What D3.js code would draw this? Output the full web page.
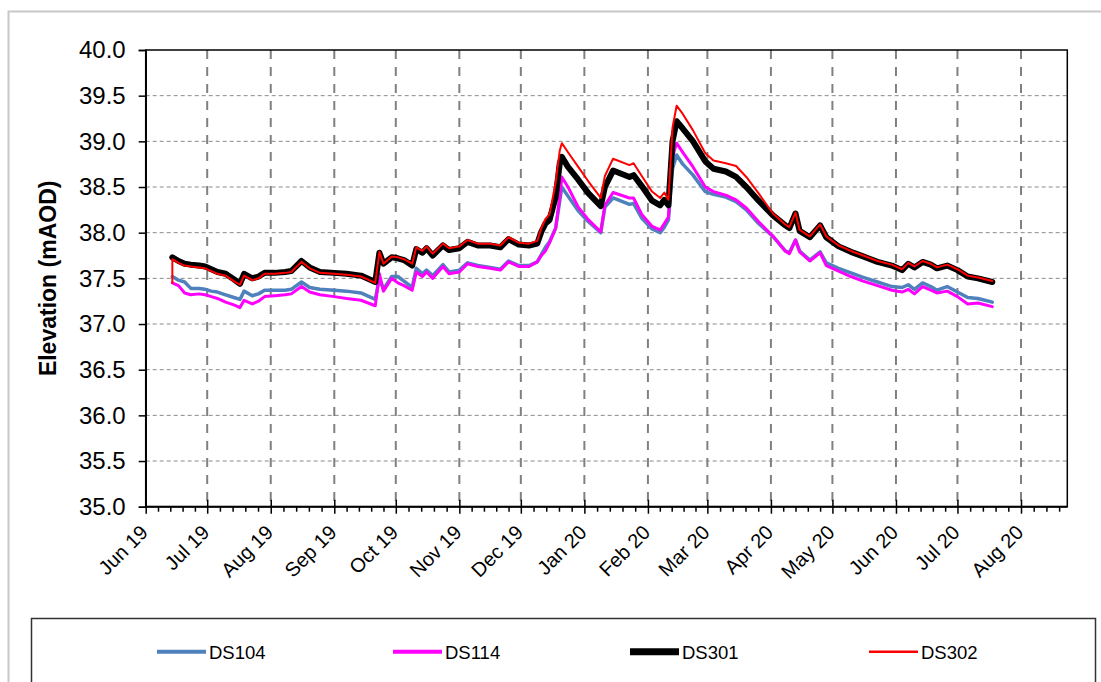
<!DOCTYPE html>
<html>
<head>
<meta charset="utf-8">
<script src="https://cdn.jsdelivr.net/npm/d3@7"></script>
<style>
  html, body { margin: 0; padding: 0; background: #fff; }
  svg { display: block; font-family: "Liberation Sans", Arial, sans-serif; }
</style>
</head>
<body>
<svg id="chart" width="1101" height="682"></svg>
<script>
// ---------------- DATA ----------------
const dates = [
"2019-06-14","2019-06-14","2019-06-17","2019-06-20","2019-06-23","2019-06-27","2019-06-30",
"2019-07-03","2019-07-06","2019-07-10","2019-07-14","2019-07-17","2019-07-19","2019-07-23","2019-07-26","2019-07-29",
"2019-08-03","2019-08-08","2019-08-11","2019-08-16","2019-08-20","2019-08-25",
"2019-09-01","2019-09-07","2019-09-14","2019-09-21","2019-09-23","2019-09-25","2019-09-29",
"2019-10-02","2019-10-05","2019-10-09","2019-10-11","2019-10-14","2019-10-16","2019-10-19","2019-10-24","2019-10-27",
"2019-11-01","2019-11-05","2019-11-10","2019-11-16","2019-11-21","2019-11-25","2019-11-30",
"2019-12-05","2019-12-09","2019-12-11","2019-12-13","2019-12-15","2019-12-18","2019-12-20","2019-12-21","2019-12-24","2019-12-29",
"2020-01-03","2020-01-09","2020-01-11","2020-01-15","2020-01-23","2020-01-25","2020-01-29",
"2020-02-03","2020-02-07","2020-02-09","2020-02-11","2020-02-13","2020-02-15","2020-02-18","2020-02-23","2020-02-29",
"2020-03-04","2020-03-10","2020-03-15","2020-03-20","2020-03-26",
"2020-04-02","2020-04-08","2020-04-10","2020-04-13","2020-04-15","2020-04-20","2020-04-25","2020-04-28",
"2020-05-04","2020-05-10","2020-05-16","2020-05-23","2020-05-30",
"2020-06-04","2020-06-07","2020-06-10","2020-06-14","2020-06-18","2020-06-21","2020-06-26",
"2020-07-01","2020-07-06","2020-07-11","2020-07-18"
];

const ds104 = [
37.52,37.52,37.48,37.46,37.39,37.39,37.38,
37.36,37.35,37.32,37.29,37.27,37.36,37.31,37.33,37.37,
37.37,37.37,37.38,37.46,37.40,37.38,
37.37,37.36,37.34,37.27,37.50,37.38,37.52,
37.52,37.47,37.40,37.61,37.55,37.59,37.53,37.65,37.57,
37.59,37.67,37.64,37.62,37.60,37.69,37.64,
37.64,37.68,37.76,37.84,37.90,38.05,38.35,38.50,38.40,38.24,
38.12,38.00,38.28,38.38,38.31,38.32,38.16,
38.04,38.00,38.06,38.14,38.70,38.85,38.75,38.63,38.45,
38.42,38.39,38.34,38.25,38.10,
37.96,37.80,37.78,37.92,37.80,37.70,37.79,37.67,
37.61,37.56,37.51,37.46,37.41,
37.40,37.43,37.38,37.45,37.41,37.37,37.41,
37.35,37.29,37.28,37.24
];

const ds114 = [
37.45,37.45,37.42,37.34,37.32,37.33,37.32,
37.30,37.28,37.24,37.21,37.18,37.26,37.22,37.25,37.30,
37.31,37.32,37.33,37.41,37.35,37.32,
37.30,37.28,37.26,37.20,37.55,37.36,37.50,
37.45,37.42,37.37,37.57,37.52,37.57,37.50,37.63,37.55,
37.57,37.66,37.63,37.61,37.59,37.68,37.63,
37.63,37.68,37.75,37.80,37.89,38.05,38.39,38.61,38.50,38.28,
38.14,38.01,38.30,38.44,38.38,38.38,38.20,
38.07,38.03,38.10,38.17,38.83,38.98,38.88,38.72,38.50,
38.45,38.41,38.36,38.27,38.12,
37.96,37.80,37.77,37.92,37.79,37.69,37.78,37.64,
37.58,37.52,37.47,37.42,37.37,
37.35,37.38,37.33,37.41,37.37,37.34,37.36,
37.30,37.22,37.23,37.19
];

const ds301 = [
37.73,37.73,37.69,37.66,37.65,37.64,37.63,
37.60,37.57,37.55,37.49,37.44,37.55,37.50,37.52,37.56,
37.56,37.57,37.58,37.69,37.62,37.57,
37.56,37.55,37.53,37.46,37.78,37.66,37.73,
37.72,37.70,37.64,37.82,37.78,37.83,37.75,37.86,37.81,
37.83,37.90,37.86,37.86,37.84,37.93,37.87,
37.86,37.88,38.01,38.10,38.14,38.39,38.76,38.83,38.72,38.58,
38.43,38.29,38.50,38.68,38.61,38.63,38.51,
38.35,38.30,38.36,38.30,39.00,39.22,39.14,39.00,38.78,
38.70,38.67,38.61,38.50,38.35,
38.19,38.08,38.05,38.21,38.02,37.95,38.08,37.95,
37.85,37.79,37.74,37.68,37.64,
37.59,37.66,37.62,37.68,37.65,37.61,37.64,
37.59,37.52,37.50,37.46
];

const ds302 = [
37.45,37.71,37.67,37.64,37.63,37.62,37.61,
37.58,37.55,37.53,37.47,37.43,37.53,37.48,37.50,37.55,
37.55,37.56,37.57,37.68,37.61,37.56,
37.55,37.54,37.52,37.45,37.79,37.66,37.74,
37.73,37.71,37.66,37.84,37.80,37.85,37.77,37.88,37.83,
37.85,37.92,37.88,37.88,37.86,37.95,37.89,
37.88,37.91,38.05,38.15,38.20,38.55,38.90,38.98,38.88,38.72,
38.56,38.38,38.62,38.81,38.74,38.76,38.62,
38.45,38.38,38.44,38.36,39.15,39.39,39.30,39.12,38.87,
38.79,38.76,38.73,38.61,38.43,
38.21,38.09,38.06,38.22,38.03,37.96,38.09,37.96,
37.86,37.80,37.75,37.69,37.65,
37.60,37.67,37.63,37.69,37.66,37.62,37.65,
37.60,37.53,37.51,37.47
];

const seriesNames = ["DS104", "DS114", "DS301", "DS302"];
const yTickValues = [35.0, 35.5, 36.0, 36.5, 37.0, 37.5, 38.0, 38.5, 39.0, 39.5, 40.0];
const monthTicks = ["2019-06-01","2019-07-01","2019-08-01","2019-09-01","2019-10-01","2019-11-01",
  "2019-12-01","2020-01-01","2020-02-01","2020-03-01","2020-04-01","2020-05-01","2020-06-01",
  "2020-07-01","2020-08-01"];

// ---------------- CHART ----------------
const parse = d3.timeParse("%Y-%m-%d");
const svg = d3.select("#chart");
const L = 145.7, T = 50, R = 1067.3, B = 506.7;
const FONT = '"Liberation Sans", Arial, sans-serif';

// outer chart frame
svg.append("rect").attr("x", 8.5).attr("y", 11.5).attr("width", 1100).attr("height", 700)
  .attr("fill", "#fff").attr("stroke", "#c8c8c8").attr("stroke-width", 2);

const monthDates = monthTicks.map(parse);
const x = d3.scaleTime()
  .domain([monthDates[0], monthDates[monthDates.length - 1]])
  .range([L, 1021]);
const y = d3.scaleLinear().domain([35, 40]).range([B, T]);

// gridlines
const grid = svg.append("g");
grid.selectAll("line.h").data(yTickValues.filter(v => v > 35 && v < 40)).join("line")
  .attr("x1", L).attr("x2", R).attr("y1", d => y(d)).attr("y2", d => y(d))
  .attr("stroke", "#8a8a8a").attr("stroke-width", 1).attr("stroke-dasharray", "4,3");
grid.selectAll("line.v").data(monthDates.slice(1)).join("line")
  .attr("x1", d => x(d)).attr("x2", d => x(d)).attr("y1", T).attr("y2", B)
  .attr("stroke", "#808080").attr("stroke-width", 2).attr("stroke-dasharray", "9,8");

// plot border
svg.append("rect").attr("x", L).attr("y", T).attr("width", R - L).attr("height", B - T)
  .attr("fill", "none").attr("stroke", "#000").attr("stroke-width", 1.5);

// Y axis
const yAxis = svg.append("g").attr("transform", `translate(${L},0)`)
  .call(d3.axisLeft(y).tickValues(yTickValues).tickSize(7).tickPadding(13).tickFormat(d3.format(".1f")));
yAxis.select(".domain").attr("stroke", "#000").attr("stroke-width", 1.5);
yAxis.selectAll(".tick line").attr("stroke", "#000").attr("stroke-width", 1.5);
yAxis.selectAll(".tick text").attr("font-family", FONT).attr("font-size", 24).attr("fill", "#000");

// minor x ticks (5 per month)
const minorDates = [];
for (let i = 0; i < monthDates.length; i++) {
  const a = monthDates[i];
  const b = i < monthDates.length - 1 ? monthDates[i + 1] : null;
  const span = b ? (b - a) : (monthDates[i] - monthDates[i - 1]);
  for (let k = 1; k < 5; k++) {
    const d = new Date(+a + span * k / 5);
    if (x(d) <= R + 0.5) minorDates.push(d);
  }
}
const minorAxis = svg.append("g").attr("transform", `translate(0,${B})`)
  .call(d3.axisBottom(x).tickValues(minorDates).tickSize(5).tickFormat(""));
minorAxis.select(".domain").remove();
minorAxis.selectAll(".tick line").attr("stroke", "#000").attr("stroke-width", 1.5);

// major x axis
const xAxis = svg.append("g").attr("transform", `translate(0,${B})`)
  .call(d3.axisBottom(x).tickValues(monthDates).tickSizeInner(7).tickSizeOuter(0)
    .tickFormat(d3.timeFormat("%b %y")));
xAxis.select(".domain").attr("d", `M${L},0H${R}`).attr("stroke", "#000").attr("stroke-width", 2);
xAxis.selectAll(".tick line").attr("y1", -7).attr("y2", 7).attr("stroke", "#000").attr("stroke-width", 1.5);
xAxis.selectAll(".tick text")
  .attr("font-family", FONT).attr("font-size", 20).attr("fill", "#000")
  .attr("x", 0).attr("y", 0).attr("dy", 0)
  .attr("text-anchor", "end")
  .attr("transform", "translate(3,27) rotate(-45)");

// Y title
svg.append("text")
  .attr("transform", `translate(56,${(T + B) / 2}) rotate(-90)`)
  .attr("text-anchor", "middle").attr("font-family", FONT)
  .attr("font-size", 23).attr("font-weight", "bold").attr("fill", "#000")
  .text("Elevation (mAOD)");

// lines
const allSeries = [
  { name: seriesNames[0], values: ds104, color: "#4F81BD", width: 3.5 },
  { name: seriesNames[1], values: ds114, color: "#FF00FF", width: 3 },
  { name: seriesNames[2], values: ds301, color: "#000000", width: 6 },
  { name: seriesNames[3], values: ds302, color: "#FF0000", width: 2 }
];
const line = d3.line().x(d => x(d[0])).y(d => y(d[1]));
const parsedDates = dates.map(parse);
svg.append("g").selectAll("path").data(allSeries).join("path")
  .attr("d", s => line(parsedDates.map((d, i) => [d, s.values[i]])))
  .attr("fill", "none").attr("stroke", s => s.color).attr("stroke-width", s => s.width)
  .attr("stroke-linejoin", "round").attr("stroke-linecap", "round");

// legend
svg.append("rect").attr("x", 31.5).attr("y", 618.5).attr("width", 1064).attr("height", 100)
  .attr("fill", "#fff").attr("stroke", "#333").attr("stroke-width", 1.5);
const legendX = [157, 393, 630, 869];
const lg = svg.append("g").selectAll("g").data(allSeries).join("g")
  .attr("transform", (d, i) => `translate(${legendX[i]},651.7)`);
lg.append("line").attr("x1", 0).attr("x2", 49).attr("y1", 0).attr("y2", 0)
  .attr("stroke", d => d.color).attr("stroke-width", d => d.name === "DS301" ? 7 : (d.name === "DS302" ? 2.5 : 4));
lg.append("text").attr("x", 52).attr("y", 6.8).attr("font-family", FONT).attr("font-size", 18.5)
  .attr("fill", "#000").text(d => d.name);
</script>
</body>
</html>
